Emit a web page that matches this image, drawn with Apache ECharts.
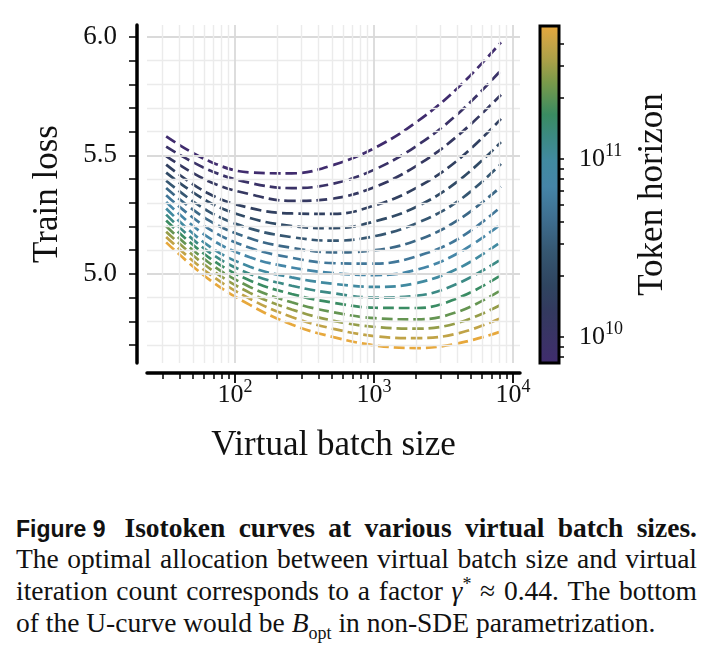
<!DOCTYPE html>
<html>
<head>
<meta charset="utf-8">
<script src="https://cdn.jsdelivr.net/npm/echarts@6/dist/echarts.min.js"></script>
<style>
  html, body { margin: 0; padding: 0; background: #fff; }
  #chart { position: absolute; left: 0; top: 0; width: 713px; height: 500px; }
  .cap { position: absolute; left: 16px; width: 681px; font-family: "Liberation Serif", "Times New Roman", serif; font-size: 27.5px;
         line-height: 31.7px; color: #111; white-space: nowrap; }
  .cap b, .cap i { font-family: "Liberation Serif", "Times New Roman", serif; }
  .just { text-align: justify; text-align-last: justify; }
  .fig { display: inline-block; font-family: "Liberation Sans", Arial, sans-serif; font-weight: bold; font-size: 23px; margin-right: 19px; }
  sup, sub { font-size: 18px; line-height: 0; }
</style>
</head>
<body>
<div id="chart"></div>
<div class="cap just" style="top:512px"><span class="fig">Figure 9</span><b>Isotoken curves at various virtual batch sizes.</b></div>
<div class="cap just" style="top:543px">The optimal allocation between virtual batch size and virtual</div>
<div class="cap just" style="top:575px">iteration count corresponds to a factor <i>γ</i><sup>*</sup> ≈ 0.44. The bottom</div>
<div class="cap" style="top:607px">of the U-curve would be <i>B</i><sub>opt</sub> in non-SDE parametrization.</div>
<script>
// virtual batch sizes where each isotoken curve was read
const BATCH_SIZES = [32, 64, 128, 256, 512, 1024, 2048, 4096, 8192];

// token horizon of each curve (smallest first)
const HORIZONS = [6.5e9, 8.7e9, 1.16e10, 1.55e10, 2.07e10, 2.76e10, 3.69e10, 4.93e10,
                  6.58e10, 8.79e10, 1.17e11, 1.57e11, 2.09e11, 2.80e11, 3.73e11, 4.99e11];

// train loss, one row per horizon, one value per batch size
const LOSS = [
  [5.580, 5.478, 5.428, 5.424, 5.460, 5.533, 5.643, 5.790, 5.977],
  [5.537, 5.440, 5.384, 5.362, 5.381, 5.442, 5.542, 5.680, 5.859],
  [5.497, 5.392, 5.336, 5.308, 5.318, 5.368, 5.458, 5.588, 5.756],
  [5.461, 5.340, 5.278, 5.255, 5.253, 5.290, 5.365, 5.485, 5.654],
  [5.427, 5.305, 5.236, 5.202, 5.193, 5.222, 5.285, 5.395, 5.556],
  [5.393, 5.265, 5.192, 5.155, 5.140, 5.160, 5.215, 5.310, 5.464],
  [5.362, 5.228, 5.150, 5.110, 5.091, 5.100, 5.142, 5.230, 5.368],
  [5.332, 5.192, 5.110, 5.068, 5.045, 5.043, 5.075, 5.150, 5.283],
  [5.303, 5.155, 5.070, 5.027, 5.003, 4.995, 5.018, 5.090, 5.210],
  [5.276, 5.120, 5.030, 4.985, 4.958, 4.945, 4.962, 5.025, 5.135],
  [5.250, 5.095, 5.000, 4.950, 4.918, 4.900, 4.908, 4.962, 5.062],
  [5.225, 5.072, 4.972, 4.915, 4.878, 4.857, 4.856, 4.900, 4.994],
  [5.201, 5.050, 4.945, 4.880, 4.838, 4.813, 4.808, 4.842, 4.931],
  [5.178, 5.028, 4.920, 4.850, 4.802, 4.776, 4.769, 4.795, 4.870],
  [5.156, 5.004, 4.895, 4.818, 4.768, 4.737, 4.729, 4.750, 4.814],
  [5.133, 4.980, 4.869, 4.786, 4.733, 4.698, 4.687, 4.708, 4.757],
];

const X_MAJOR = [100, 1000, 10000];
const X_MINOR = [30, 40, 50, 60, 70, 80, 90, 200, 300, 400, 500, 600, 700, 800, 900,
                 2000, 3000, 4000, 5000, 6000, 7000, 8000, 9000];
const Y_TICKS = [4.7, 4.8, 4.9, 5.0, 5.1, 5.2, 5.3, 5.4, 5.5, 5.6, 5.7, 5.8, 5.9, 6.0];
const Y_LABELS = [5.0, 5.5, 6.0];
const CB_MAJOR = [1e10, 1e11];
const CB_MINOR = [7e9, 8e9, 9e9, 2e10, 3e10, 4e10, 5e10, 6e10, 7e10, 8e10, 9e10, 2e11, 3e11, 4e11];

// colormap: log10(horizon) -> colour
const CMAP = [
  [9.81, "#402c6e"], [9.95, "#3a3366"], [10.10, "#33395f"], [10.25, "#2f4560"],
  [10.43, "#355670"], [10.61, "#3e6d8e"], [10.80, "#4585a8"], [10.95, "#418aa0"],
  [11.08, "#3c8a82"], [11.20, "#3a8c62"], [11.38, "#7a9a4a"], [11.50, "#aaa048"],
  [11.60, "#c8a446"], [11.70, "#e8a83c"],
];
const CB_MIN = 6.45e9, CB_MAX = 5.04e11;

function hex(c) { return [1, 3, 5].map((i) => parseInt(c.slice(i, i + 2), 16)); }
function cmap(h) {
  const v = Math.log10(h);
  if (v <= CMAP[0][0]) return CMAP[0][1];
  for (let i = 1; i < CMAP.length; i++) {
    if (v <= CMAP[i][0]) {
      const t = (v - CMAP[i - 1][0]) / (CMAP[i][0] - CMAP[i - 1][0]);
      const a = hex(CMAP[i - 1][1]), b = hex(CMAP[i][1]);
      return "rgb(" + a.map((x, k) => Math.round(x + (b[k] - x) * t)).join(",") + ")";
    }
  }
  return CMAP[CMAP.length - 1][1];
}

const SERIF = '"Liberation Serif", "Times New Roman", serif';
const INK = "#111";

function powLabel(v) {
  return "{b|10}{s|" + Math.round(Math.log10(v)) + "}";
}
const richPow = {
  b: { fontFamily: SERIF, fontSize: 26, lineHeight: 26, verticalAlign: "bottom", color: INK },
  s: { fontFamily: SERIF, fontSize: 18, lineHeight: 18, verticalAlign: "bottom", color: INK, padding: [0, 0, 12, 0] },
};

const chart = echarts.init(document.getElementById("chart"));

const MAJOR_GRID = { color: "#dadada", width: 1.8, type: "solid" };
const MINOR_GRID = { color: "#ebebeb", width: 1.4, type: "solid" };
const gridLines = [
  ...Y_TICKS.map((v) => ({ yAxis: v, lineStyle: Y_LABELS.includes(v) ? MAJOR_GRID : MINOR_GRID })),
  ...X_MAJOR.map((v) => ({ xAxis: v, lineStyle: MAJOR_GRID })),
  ...X_MINOR.map((v) => ({ xAxis: v, lineStyle: MINOR_GRID })),
];

const stops = CMAP.map(([v, c]) => ({
  offset: Math.min(1, Math.max(0, (v - Math.log10(CB_MIN)) / (Math.log10(CB_MAX) - Math.log10(CB_MIN)))),
  color: c,
}));

chart.setOption({
  animation: false,
  backgroundColor: "#fff",
  grid: [
    { left: 147, top: 25, width: 373, height: 338 },
    { left: 540, top: 26, width: 19, height: 337 },
  ],
  xAxis: [
    {
      type: "log", gridIndex: 0, min: 23.3, max: 11220, position: "bottom", offset: 10,
      axisLine: { show: true, lineStyle: { color: "#000", width: 3.5 } },
      axisTick: { show: true, customValues: X_MAJOR, length: 10, lineStyle: { color: "#000", width: 1.8 } },
      axisLabel: { customValues: X_MAJOR, formatter: powLabel, rich: richPow, margin: 9 },
      splitLine: { show: false },
      name: "Virtual batch size", nameLocation: "middle", nameGap: 55,
      nameTextStyle: { fontFamily: SERIF, fontSize: 35, color: INK },
    },
    {
      type: "log", gridIndex: 0, min: 23.3, max: 11220, position: "bottom", offset: 10,
      axisLine: { show: false },
      axisTick: { show: true, customValues: X_MINOR, length: 6, lineStyle: { color: "#000", width: 1.5 } },
      axisLabel: { show: false },
      splitLine: { show: false },
    },
    { type: "value", gridIndex: 1, min: 0, max: 1, show: false },
  ],
  yAxis: [
    {
      type: "value", gridIndex: 0, min: 4.624, max: 6.05, position: "left", offset: 10,
      axisLine: { show: true, lineStyle: { color: "#000", width: 3.5 } },
      axisTick: { show: true, customValues: Y_TICKS, length: 8, lineStyle: { color: "#000", width: 1.5 } },
      axisLabel: {
        customValues: Y_LABELS, formatter: (v) => v.toFixed(1), margin: 20,
        fontFamily: SERIF, fontSize: 27, color: INK,
      },
      splitLine: { show: false },
      name: "Train loss", nameLocation: "middle", nameGap: 72, nameRotate: 90,
      nameTextStyle: { fontFamily: SERIF, fontSize: 35, color: INK },
    },
    {
      type: "log", gridIndex: 1, min: CB_MIN, max: CB_MAX, position: "right",
      axisLine: { show: false },
      axisTick: { show: true, customValues: CB_MAJOR, length: 10, lineStyle: { color: "#000", width: 1.8 } },
      axisLabel: { customValues: CB_MAJOR, formatter: powLabel, rich: richPow, margin: 20, padding: [16, 0, 0, 0] },
      splitLine: { show: false },
      name: "Token horizon", nameLocation: "middle", nameGap: 76, nameRotate: 90,
      nameTextStyle: { fontFamily: SERIF, fontSize: 35, color: INK },
    },
    {
      type: "log", gridIndex: 1, min: CB_MIN, max: CB_MAX, position: "right",
      axisLine: { show: false },
      axisTick: { show: true, customValues: CB_MINOR, length: 5, lineStyle: { color: "#000", width: 1.5 } },
      axisLabel: { show: false },
      splitLine: { show: false },
    },
  ],
  graphic: [
    {
      type: "rect", z: 50,
      shape: { x: 540, y: 26, width: 19, height: 337 },
      style: {
        fill: new echarts.graphic.LinearGradient(0, 1, 0, 0, stops),
        stroke: "#000", lineWidth: 3,
      },
    },
  ],
  series: [
    {
      type: "line", xAxisIndex: 0, yAxisIndex: 0, data: [], z: 1, silent: true,
      markLine: { silent: true, symbol: ["none", "none"], label: { show: false }, data: gridLines },
    },
    ...LOSS.map((row, i) => ({
      type: "line", xAxisIndex: 0, yAxisIndex: 0, z: 3,
      data: BATCH_SIZES.map((b, j) => [b, row[j]]),
      smooth: 0.4, showSymbol: false,
      lineStyle: { color: cmap(HORIZONS[i]), width: 2.7, type: [11, 5] },
    })),
  ],
});
</script>
</body>
</html>
